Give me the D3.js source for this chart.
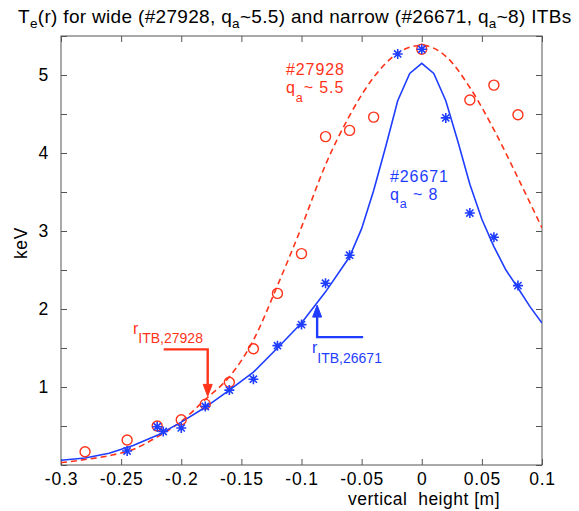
<!DOCTYPE html>
<html>
<head>
<meta charset="utf-8">
<script src="https://cdn.jsdelivr.net/npm/d3@7"></script>
<style>
  html, body { margin: 0; padding: 0; background: #fff; }
  svg { display: block; font-family: "Liberation Sans", Arial, Helvetica, sans-serif; }
</style>
</head>
<body>
<svg id="chart" width="579" height="511"></svg>
<script>
// Measured Te points, shot #27928 (wide ITB)
const wideX = [-0.28, -0.245, -0.22, -0.20, -0.18, -0.16, -0.14, -0.12, -0.10, -0.08, -0.06, -0.04, 0, 0.04, 0.06, 0.08];
const wideTe = [0.17, 0.32, 0.50, 0.58, 0.78, 1.06, 1.49, 2.20, 2.71, 4.21, 4.29, 4.46, 5.33, 4.68, 4.87, 4.49];

// Measured Te points, shot #26671 (narrow ITB)
const narrowX = [-0.245, -0.22, -0.215, -0.20, -0.18, -0.16, -0.14, -0.12, -0.10, -0.08, -0.06, -0.02, 0, 0.02, 0.04, 0.06, 0.08];
const narrowTe = [0.18, 0.49, 0.43, 0.475, 0.75, 0.96, 1.10, 1.53, 1.80, 2.33, 2.69, 5.27, 5.33, 4.45, 3.23, 2.92, 2.30];

// Fitted profile, #27928 (dashed)
const wideFitX = [-0.30, -0.28, -0.26, -0.24, -0.22, -0.20, -0.18, -0.16, -0.14, -0.12, -0.10, -0.08, -0.06, -0.04, -0.02, 0, 0.02, 0.04, 0.06, 0.08, 0.10];
const wideFitTe = [0.03, 0.07, 0.12, 0.20, 0.36, 0.56, 0.84, 1.13, 1.60, 2.30, 3.05, 3.85, 4.48, 4.97, 5.28, 5.38, 5.24, 4.84, 4.30, 3.68, 3.04];

// Fitted profile, #26671 (solid)
const narrowFitX = [-0.30, -0.28, -0.26, -0.24, -0.22, -0.20, -0.18, -0.16, -0.14, -0.12, -0.10, -0.08, -0.06, -0.05, -0.04, -0.03, -0.02, -0.01, 0, 0.01, 0.02, 0.03, 0.04, 0.05, 0.06, 0.07, 0.08, 0.09, 0.10];
const narrowFitTe = [0.06, 0.09, 0.15, 0.25, 0.38, 0.55, 0.74, 0.96, 1.19, 1.50, 1.82, 2.22, 2.67, 3.03, 3.52, 4.08, 4.67, 5.02, 5.15, 5.02, 4.67, 4.15, 3.60, 3.15, 2.80, 2.50, 2.27, 2.03, 1.82];

// ITB foot positions (x, Te at arrow tip)
const itbX = [-0.178, -0.087];
const itbTe = [0.88, 2.05];

// Axis ticks
const xTicks = [-0.3, -0.25, -0.2, -0.15, -0.1, -0.05, 0, 0.05, 0.1];
const yTicks = [0, 0.5, 1, 1.5, 2, 2.5, 3, 3.5, 4, 4.5, 5, 5.5];
const yLabelled = [1, 2, 3, 4, 5];

const RED = "#ff3319";
const BLUE = "#1f3dff";
const FRAME = "#555";

const svg = d3.select("#chart");
svg.append("rect").attr("width", 579).attr("height", 511).attr("fill", "#fff");

const L = 61, R = 542, T = 36, B = 465;
const x = d3.scaleLinear().domain([-0.3, 0.1]).range([L, R]);
const y = d3.scaleLinear().domain([0, 5.5]).range([B, T]);

// Axes with inward ticks on all four sides
const fmtX = d => String(+d.toFixed(2));
const fmtY = d => yLabelled.includes(d) ? String(d) : "";

function styleAxis(g) {
  g.select(".domain").remove();
  g.selectAll(".tick line").attr("stroke", FRAME).attr("stroke-width", 1);
  g.selectAll(".tick text").attr("fill", "#000").attr("font-size", 17.5)
    .attr("letter-spacing", 0.8)
    .attr("font-family", "Liberation Sans, Arial, sans-serif");
}

svg.append("g").attr("transform", `translate(0,${B})`)
  .call(d3.axisBottom(x).tickValues(xTicks).tickSize(-6).tickPadding(8).tickFormat(fmtX))
  .call(styleAxis);
svg.append("g").attr("transform", `translate(0,${T})`)
  .call(d3.axisTop(x).tickValues(xTicks).tickSize(-6).tickFormat(""))
  .call(styleAxis);
svg.append("g").attr("transform", `translate(${L},0)`)
  .call(d3.axisLeft(y).tickValues(yTicks).tickSize(-6).tickPadding(12).tickFormat(fmtY))
  .call(styleAxis);
svg.append("g").attr("transform", `translate(${R},0)`)
  .call(d3.axisRight(y).tickValues(yTicks).tickSize(-6).tickFormat(""))
  .call(styleAxis);

svg.append("rect").attr("x", L).attr("y", T).attr("width", R - L).attr("height", B - T)
  .attr("fill", "none").attr("stroke", FRAME).attr("stroke-width", 1);

// Clip for the curves
svg.append("clipPath").attr("id", "plotClip")
  .append("rect").attr("x", L).attr("y", T).attr("width", R - L).attr("height", B - T);

const plot = svg.append("g").attr("clip-path", "url(#plotClip)");

const wideLine = d3.line().x((d, i) => x(wideFitX[i])).y(d => y(d)).curve(d3.curveMonotoneX);
const narrowLine = d3.line().x((d, i) => x(narrowFitX[i])).y(d => y(d)).curve(d3.curveLinear);

plot.append("path").attr("d", wideLine(wideFitTe))
  .attr("fill", "none").attr("stroke", RED).attr("stroke-width", 1.6)
  .attr("stroke-dasharray", "6,4");
plot.append("path").attr("d", narrowLine(narrowFitTe))
  .attr("fill", "none").attr("stroke", BLUE).attr("stroke-width", 1.6);

// Circles for #27928
svg.append("g").selectAll("circle").data(wideTe).join("circle")
  .attr("cx", (d, i) => x(wideX[i])).attr("cy", d => y(d)).attr("r", 5)
  .attr("fill", "none").attr("stroke", RED).attr("stroke-width", 1.4);

// Asterisks for #26671
const s = 5, k = s * 0.72;
const starPath = `M0,${-s}L0,${s}M${-s},0L${s},0M${-k},${-k}L${k},${k}M${-k},${k}L${k},${-k}`;
svg.append("g").selectAll("path").data(narrowTe).join("path")
  .attr("transform", (d, i) => `translate(${x(narrowX[i])},${y(d)})`)
  .attr("d", starPath).attr("fill", "none").attr("stroke", BLUE).attr("stroke-width", 1.6);

// ITB arrows: dir = +1 points down, -1 points up; the shaft runs back
// from the tip by elbowDy, then turns horizontally by tailDx.
function arrow(tipX, tipY, dir, color, elbowDy, tailDx) {
  const head = 12, hw = 4.5;
  const baseY = tipY - dir * head;
  const elbowY = tipY - dir * elbowDy;
  const g = svg.append("g");
  g.append("path")
    .attr("d", `M${tipX + tailDx},${elbowY}L${tipX},${elbowY}L${tipX},${baseY}`)
    .attr("fill", "none").attr("stroke", color).attr("stroke-width", 2.4);
  g.append("path")
    .attr("d", `M${tipX},${tipY}L${tipX - hw},${baseY}L${tipX + hw},${baseY}Z`)
    .attr("fill", color).attr("stroke", color).attr("stroke-width", 1);
}
arrow(x(itbX[0]), y(itbTe[0]), 1, RED, 47, -44);
arrow(x(itbX[1]), y(itbTe[1]), -1, BLUE, 32, 46);

// Text helper with subscripts
function subText(sel, parts, attrs) {
  const t = sel.append("text");
  Object.entries(attrs).forEach(([a, v]) => t.attr(a, v));
  parts.forEach(p => {
    const ts = t.append("tspan").text(p.t);
    if (p.sub) ts.attr("font-size", p.size).attr("dy", p.dy);
    else if (p.dy) ts.attr("dy", p.dy);
  });
  return t;
}

// Title
subText(svg, [
  { t: "T" },
  { t: "e", sub: true, size: 13.5, dy: 5 },
  { t: "(r) for wide (#27928, q", dy: -5 },
  { t: "a", sub: true, size: 13.5, dy: 5 },
  { t: "~5.5) and narrow (#26671, q", dy: -5 },
  { t: "a", sub: true, size: 13.5, dy: 5 },
  { t: "~8) ITBs", dy: -5 }
], { x: 18, y: 23, "font-size": 19, "letter-spacing": 0.32, fill: "#000" });

// Axis titles
svg.append("text").attr("transform", "translate(27,243) rotate(-90)")
  .attr("text-anchor", "middle").attr("font-size", 17.5).attr("letter-spacing", 0.6)
  .attr("fill", "#000").text("keV");
svg.append("text").attr("x", 424).attr("y", 505).attr("text-anchor", "middle")
  .attr("font-size", 17.5).attr("letter-spacing", 0.5).attr("fill", "#000")
  .style("white-space", "pre")
  .text("vertical  height [m]");

// Series labels
svg.append("text").attr("x", 286).attr("y", 75).attr("font-size", 16).attr("letter-spacing", 0.9)
  .attr("fill", RED).text("#27928");
subText(svg, [
  { t: "q" },
  { t: "a", sub: true, size: 12.5, dy: 9 },
  { t: "~ 5.5", dy: -9 }
], { x: 286, y: 93, "font-size": 16, "letter-spacing": 0.9, fill: RED });

svg.append("text").attr("x", 390).attr("y", 182).attr("font-size", 16).attr("letter-spacing", 0.9)
  .attr("fill", BLUE).text("#26671");
subText(svg, [
  { t: "q" },
  { t: "a", sub: true, size: 12.5, dy: 8 },
  { t: " ~ 8", dy: -8 }
], { x: 390, y: 200, "font-size": 16, "letter-spacing": 0.9, fill: BLUE });

// ITB labels
subText(svg, [
  { t: "r" },
  { t: "ITB,27928", sub: true, size: 14, dy: 9 }
], { x: 133, y: 334, "font-size": 16, fill: RED });
subText(svg, [
  { t: "r" },
  { t: "ITB,26671", sub: true, size: 14, dy: 10 }
], { x: 312, y: 353, "font-size": 16, fill: BLUE });
</script>
</body>
</html>
